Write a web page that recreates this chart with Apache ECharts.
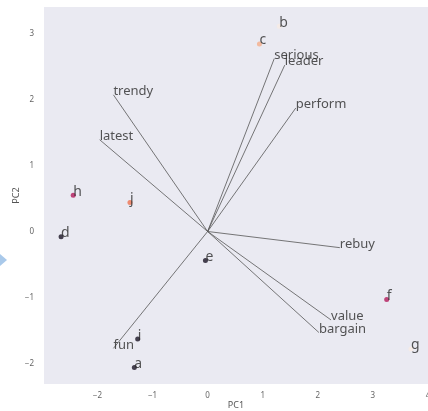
<!DOCTYPE html>
<html>
<head>
<meta charset="utf-8">
<script src="https://cdn.jsdelivr.net/npm/echarts@6/dist/echarts.min.js"></script>
<style>
  html, body { margin: 0; padding: 0; background: #fff; }
  #main { width: 428px; height: 411px; }
</style>
</head>
<body>
<div id="main"></div>
<script>
// scores of the observations
var pointNames = ['a', 'b', 'c', 'd', 'e', 'f', 'g', 'h', 'i', 'j'];
var pointPC1 = [-1.33, 1.30, 0.94, -2.66, -0.04, 3.25, 3.69, -2.44, -1.27, -1.41];
var pointPC2 = [-2.06, 3.11, 2.84, -0.08, -0.44, -1.03, -1.78, 0.55, -1.63, 0.44];

// loadings of the variables
var loadNames = ['trendy', 'latest', 'serious', 'leader', 'perform', 'rebuy', 'value', 'bargain', 'fun'];
var loadPC1 = [-1.71, -1.96, 1.21, 1.40, 1.60, 2.40, 2.24, 2.02, -1.71];
var loadPC2 = [2.07, 1.39, 2.62, 2.52, 1.87, -0.245, -1.34, -1.53, -1.77];

// colour of each point
var pointColor = {
  a: '#1a1424', b: '#f7ebe4', c: '#f5ae8a', d: '#1a1424', e: '#1a1424',
  f: '#b3195a', g: '#f7ebe4', h: '#b3195a', i: '#1a1424', j: '#ef7350'
};

var myChart = echarts.init(document.getElementById('main'));

var labelFont = '"Noto Sans", sans-serif';

var points = pointNames.map(function (n, i) {
  return {
    name: n,
    value: [pointPC1[i], pointPC2[i]],
    itemStyle: { color: pointColor[n] }
  };
});

var segments = loadNames.map(function (n, i) {
  return { coords: [[0, 0], [loadPC1[i], loadPC2[i]]] };
});

var ends = loadNames.map(function (n, i) {
  return { name: n, value: [loadPC1[i], loadPC2[i]] };
});

function minus(v) {
  return String(v).replace('-', '\u2212');
}

var option = {
  animation: false,
  grid: {
    left: 44, top: 7, right: 0, bottom: 27,
    outerBoundsMode: 'none',
    containLabel: false,
    show: true, backgroundColor: '#eaeaf2', borderWidth: 0
  },
  xAxis: {
    type: 'value',
    min: -2.97, max: 4, splitNumber: 7,
    name: 'PC1', nameLocation: 'middle', nameGap: 17, nameMoveOverlap: false,
    nameTextStyle: { fontSize: 9, color: '#555', fontFamily: labelFont },
    axisLine: { show: false }, axisTick: { show: false }, splitLine: { show: false },
    axisLabel: {
      fontSize: 8, color: '#666', margin: 8, fontFamily: labelFont,
      showMinLabel: false, formatter: minus
    }
  },
  yAxis: {
    type: 'value',
    min: -2.31, max: 3.40,
    name: 'PC2', nameLocation: 'middle', nameGap: 23, nameMoveOverlap: false,
    nameTextStyle: { fontSize: 9, color: '#555', fontFamily: labelFont },
    axisLine: { show: false }, axisTick: { show: false }, splitLine: { show: false },
    axisLabel: {
      fontSize: 8, color: '#666', margin: 10, fontFamily: labelFont,
      showMinLabel: false, showMaxLabel: false, formatter: minus
    }
  },
  series: [
    {
      type: 'lines',
      coordinateSystem: 'cartesian2d',
      data: segments,
      silent: true,
      lineStyle: { color: '#555', width: 0.8, opacity: 1 }
    },
    {
      type: 'scatter',
      data: ends,
      symbolSize: 1,
      itemStyle: { color: 'transparent' },
      label: {
        show: true, position: [0.5, 3.5], align: 'left', verticalAlign: 'bottom',
        formatter: '{b}', fontSize: 13, color: '#2b2b2b', fontFamily: labelFont
      }
    },
    {
      type: 'scatter',
      data: points,
      symbolSize: 5,
      label: {
        show: true, position: [2.5, 6], align: 'left', verticalAlign: 'bottom',
        formatter: '{b}', fontSize: 14, color: '#2b2b2b', fontFamily: labelFont
      }
    }
  ],
  graphic: [
    {
      type: 'polygon',
      shape: { points: [[0, 254], [7, 260], [0, 266]] },
      style: { fill: '#a9c9ea' }
    }
  ]
};

myChart.setOption(option);
</script>
</body>
</html>
